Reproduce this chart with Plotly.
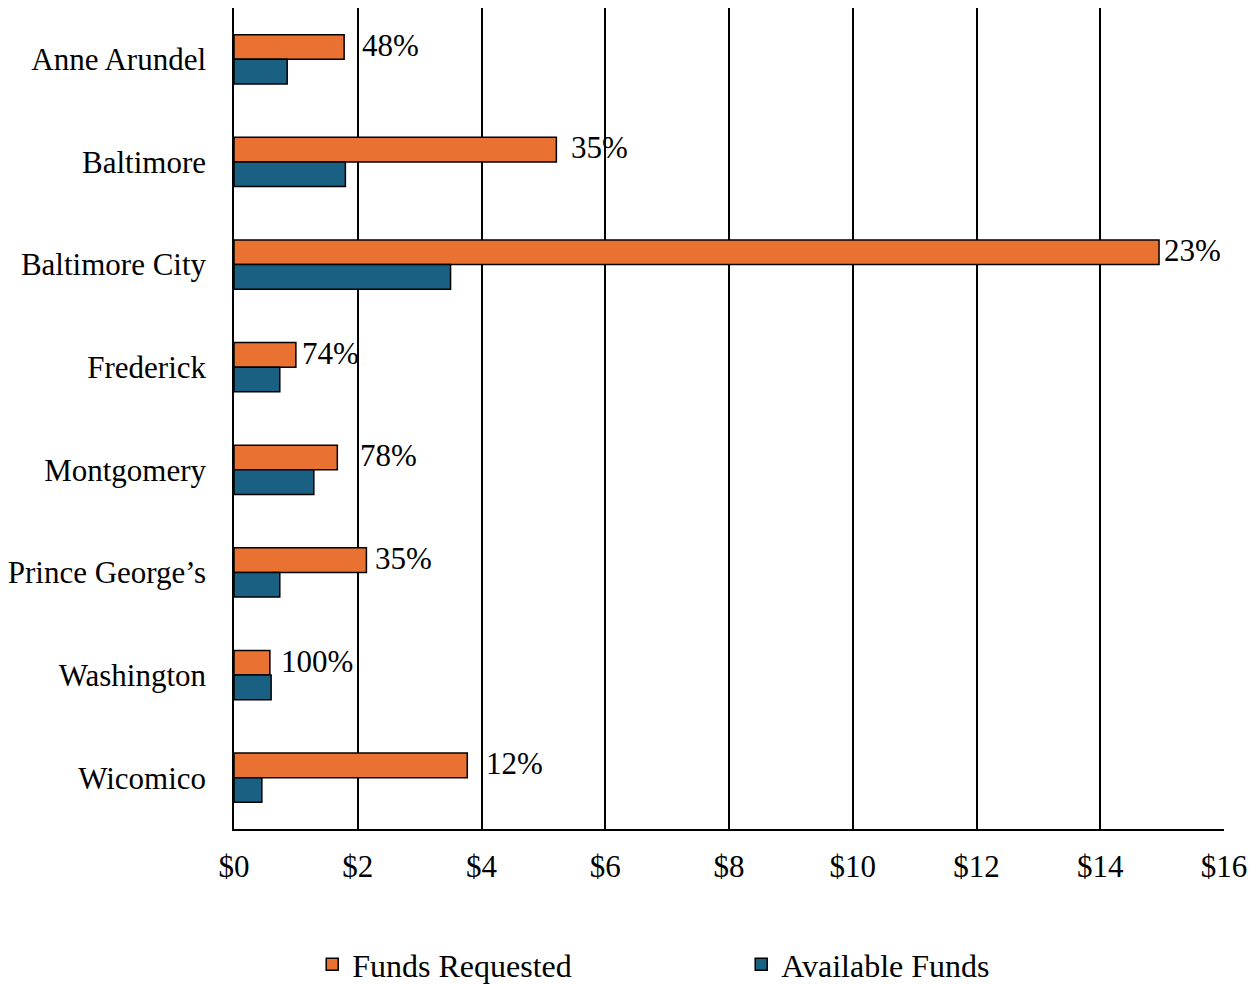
import plotly.graph_objects as go

counties = ["Anne Arundel", "Baltimore", "Baltimore City", "Frederick",
            "Montgomery", "Prince George\u2019s", "Washington", "Wicomico"]
funds_requested = [1.78, 5.21, 14.95, 1.00, 1.67, 2.14, 0.58, 3.77]
available_funds = [0.86, 1.80, 3.50, 0.74, 1.29, 0.74, 0.60, 0.45]
pct_labels = ["48%", "35%", "23%", "74%", "78%", "35%", "100%", "12%"]
label_shift = [16, 13, 3, 4, 21, 7, 9, 17]

x_ticks = [0, 2, 4, 6, 8, 10, 12, 14, 16]
x_ticklabels = ["$0", "$2", "$4", "$6", "$8", "$10", "$12", "$14", "$16"]

FONT = "Liberation Serif, Times New Roman, serif"
FS = 31

fig = go.Figure()
fig.add_trace(go.Bar(
    y=counties, x=funds_requested, orientation="h", name="Funds Requested",
    marker=dict(color="#E97132", line=dict(color="black", width=1.5)),
))
fig.add_trace(go.Bar(
    y=counties, x=available_funds, orientation="h", name="Available Funds",
    marker=dict(color="#196082", line=dict(color="black", width=1.5)),
))

for c, v, t, s in zip(counties, funds_requested, pct_labels, label_shift):
    fig.add_annotation(x=v, y=c, text=t, showarrow=False, xanchor="left",
                       yanchor="middle", xshift=s, yshift=14,
                       font=dict(family=FONT, size=FS, color="black"))

fig.update_layout(
    width=1258, height=984,
    margin=dict(l=226, r=42, t=0, b=161),
    paper_bgcolor="white", plot_bgcolor="white",
    barmode="group", bargap=0.52, bargroupgap=0,
    font=dict(family=FONT, size=FS, color="black"),
    xaxis=dict(range=[0, 16], tickvals=x_ticks, ticktext=x_ticklabels,
               showgrid=True, gridcolor="black", gridwidth=1.5,
               showline=True, linecolor="black", linewidth=1.5,
               zeroline=False, ticks="", ticklabelstandoff=9,
               automargin=False,
               tickfont=dict(family=FONT, size=FS)),
    yaxis=dict(autorange="reversed", showline=True, linecolor="black",
               linewidth=1.5, ticks="", showgrid=False,
               ticklabelstandoff=20, automargin=False,
               tickfont=dict(family=FONT, size=FS)),
    legend=dict(orientation="h", x=0.079, xanchor="left", y=-0.1655,
                yanchor="middle", entrywidth=384, entrywidthmode="pixels",
                font=dict(family=FONT, size=32)),
)

fig.write_html("out.html")
